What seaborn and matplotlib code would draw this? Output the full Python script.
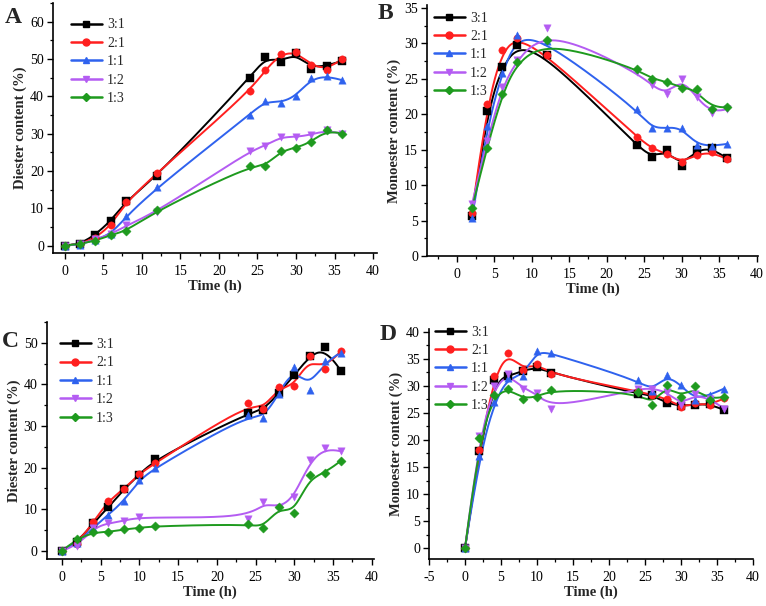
import numpy as np
import pandas as pd
import matplotlib
matplotlib.use("Agg")
import matplotlib.pyplot as plt
import seaborn as sns
from matplotlib.lines import Line2D
from matplotlib.ticker import MultipleLocator

# ---------------- data ----------------
RATIOS = ["3:1", "2:1", "1:1", "1:2", "1:3"]
COLORS = ["#000000", "#FF1F1F", "#2F62EE", "#B45CF2", "#1E9A1E"]
MARKERS = ["s", "o", "^", "v", "D"]

# Panel A : diester content
TIME_A = [0, 2, 4, 6, 8, 12, 24, 26, 28, 30, 32, 34, 36]
A_31 = [0, 0.3, 2.9, 6.6, 12.0, 18.6, 44.9, 50.4, 49.3, 51.5, 47.3, 48.2, 49.5]
A_21 = [0, 0.3, 2.0, 5.4, 11.7, 19.5, 41.3, 47.0, 51.3, 51.9, 48.3, 47.0, 50.0]
A_11 = [0, 0.2, 1.6, 3.0, 7.8, 15.6, 35.1, 38.7, 38.3, 40.0, 44.9, 45.5, 44.3]
A_12 = [0, 0.3, 1.7, 3.0, 5.4, 9.0, 25.4, 26.7, 29.1, 29.1, 29.7, 30.9, 30.0]
A_13 = [0, 0.4, 1.3, 2.8, 3.9, 9.4, 21.4, 21.2, 25.3, 26.2, 27.7, 31.0, 30.0]

# Panel B : monoester content
TIME_B = [2, 4, 6, 8, 12, 24, 26, 28, 30, 32, 34, 36]
B_31 = [5.7, 20.5, 26.7, 29.7, 28.3, 15.6, 13.9, 14.9, 12.7, 15.0, 15.3, 13.8]
B_21 = [6.0, 21.5, 29.1, 30.8, 28.4, 16.8, 15.2, 14.4, 13.2, 14.3, 14.7, 13.7]
B_11 = [5.3, 18.3, 25.8, 31.1, 30.3, 20.7, 18.0, 18.1, 18.1, 15.6, 15.5, 15.8]
B_12 = [7.3, 16.2, 23.9, 27.6, 32.2, 25.9, 24.1, 22.8, 25.0, 22.4, 20.1, 20.7]
B_13 = [6.7, 15.3, 22.8, 27.3, 30.4, 26.4, 25.0, 24.6, 23.7, 23.5, 20.8, 21.0]

# Panel C : diester content
TIME_C = [0, 2, 4, 6, 8, 10, 12, 24, 26, 28, 30, 32, 34, 36]
C_31 = [0, 2.0, 6.6, 10.4, 14.8, 18.3, 22.0, 33.1, 33.8, 37.9, 42.2, 46.9, 49.0, 43.3]
C_21 = [0, 1.7, 6.8, 12.0, 14.8, 18.5, 21.0, 35.4, 34.0, 39.3, 39.5, 46.8, 43.6, 48.0]
C_11 = [0, 1.8, 5.5, 8.6, 12.0, 17.0, 19.9, 32.7, 31.8, 37.8, 44.1, 38.7, 45.6, 47.6]
C_12 = [0, 1.2, 5.5, 6.6, 7.15, 8.2, np.nan, 7.7, 11.6, 10.3, 12.8, 21.7, 24.8, 23.9]
C_13 = [0, 2.9, 4.4, 4.5, 5.1, 5.5, 5.9, 6.4, 5.5, 10.45, 9.0, 18.2, 18.6, 21.6]

# Panel D : monoester content
TIME_D = [0, 2, 4, 6, 8, 10, 12, 24, 26, 28, 30, 32, 34, 36]
D_31 = [0, 18.0, 31.0, 31.8, 32.8, 33.4, 32.4, 28.5, 28.3, 26.8, 26.3, 26.5, 26.7, 25.5]
D_21 = [0, 18.2, 31.9, 36.1, 33.0, 34.1, 32.1, 29.0, 28.3, 27.6, 26.0, 26.8, 26.4, 27.7]
D_11 = [0, 17.0, 27.0, 31.5, 31.8, 36.5, 36.0, 31.0, 29.1, 32.0, 30.1, 27.4, 28.3, 29.5]
D_12 = [0, 20.7, 29.9, 32.2, 29.5, 28.6, 25.7, 29.5, 29.5, 28.9, 26.5, 28.5, 27.6, 25.8]
D_13 = [0, 20.4, 28.3, 29.5, 27.65, 27.95, 29.3, 28.8, 26.5, 30.1, 27.9, 29.9, 27.3, 28.0]

PANELS = [
    dict(letter="A", t=TIME_A, series=[A_31, A_21, A_11, A_12, A_13],
         ylabel="Diester content (%)", xlim=(-1.5, 40.5), ylim=(-2, 65),
         xticks=np.arange(0, 41, 5), ymaj=10, ymin=5),
    dict(letter="B", t=TIME_B, series=[B_31, B_21, B_11, B_12, B_13],
         ylabel="Monoester content (%)", xlim=(-4, 40.2), ylim=(0, 35.4),
         xticks=np.arange(0, 41, 5), ymaj=5, ymin=2.5),
    dict(letter="C", t=TIME_C, series=[C_31, C_21, C_11, C_12, C_13],
         ylabel="Diester content (%)", xlim=(-2, 40.3), ylim=(-2, 55),
         xticks=np.arange(0, 41, 5), ymaj=10, ymin=5),
    dict(letter="D", t=TIME_D, series=[D_31, D_21, D_11, D_12, D_13],
         ylabel="Monoester content (%)", xlim=(-5, 40), ylim=(-2, 40.5),
         xticks=np.arange(-5, 41, 5), ymaj=5, ymin=2.5),
]

# axes placement in pixels: left, right, top, bottom
W, H = 766, 606
BOXES = [(53, 377, 3, 253), (427, 758, 5, 256), (46.5, 374, 322, 559), (429, 753, 329, 559)]
LEG = [(71, 18.5), (434, 11.5), (60, 338), (435, 325.5)]
LET = [(5, 23), (378, 19), (2, 347), (380, 340)]


def bspline(xs, ys, n=400, k=3):
    """Clamped uniform cubic B-spline using the data points as control points."""
    P = np.column_stack([xs, ys])
    m = len(P)
    k = min(k, m - 1)
    inner = np.linspace(0, 1, m - k + 1)
    knots = np.concatenate([np.zeros(k), inner, np.ones(k)])
    t = np.linspace(0, 1, n)
    t[-1] -= 1e-9
    N = np.zeros((n, len(knots) - 1))
    for i in range(len(knots) - 1):
        N[:, i] = (knots[i] <= t) & (t < knots[i + 1])
    for d in range(1, k + 1):
        Nn = np.zeros((n, len(knots) - 1 - d))
        for i in range(len(knots) - 1 - d):
            a = knots[i + d] - knots[i]
            b = knots[i + d + 1] - knots[i + 1]
            term = np.zeros(n)
            if a > 0:
                term += (t - knots[i]) / a * N[:, i]
            if b > 0:
                term += (knots[i + d + 1] - t) / b * N[:, i + 1]
            Nn[:, i] = term
        N = Nn
    C = N @ P
    return C[:, 0], C[:, 1]


sns.set_theme(style="ticks")
plt.rcParams["font.family"] = ["Liberation Serif", "DejaVu Serif"]
plt.rcParams["axes.unicode_minus"] = False

fig = plt.figure(figsize=(W / 100, H / 100), dpi=100)
fig.patch.set_facecolor("white")

for p, box, leg, let in zip(PANELS, BOXES, LEG, LET):
    l, r, tp, bt = box
    ax = fig.add_axes([l / W, 1 - bt / H, (r - l) / W, (bt - tp) / H])
    ax.set_facecolor("white")
    handles = []
    for name, ys, col, mk in zip(RATIOS, p["series"], COLORS, MARKERS):
        df = pd.DataFrame({"t": p["t"], "y": ys}).dropna()
        cx, cy = bspline(df["t"].values, df["y"].values)
        cdf = pd.DataFrame({"t": cx, "y": cy})
        sns.lineplot(data=cdf, x="t", y="y", ax=ax, color=col, lw=1.4,
                     sort=False, estimator=None, legend=False)
        ms = 28 if mk != "D" else 22
        sns.scatterplot(data=df, x="t", y="y", ax=ax, color=col, marker=mk,
                        s=ms, edgecolor=col, linewidth=0.3, legend=False, zorder=3)
        handles.append(Line2D([], [], color=col, lw=1.8, marker=mk,
                              markersize=5 if mk != "D" else 4.5))
    ax.set_xticks(p["xticks"])
    ax.xaxis.set_minor_locator(MultipleLocator(2.5))
    ax.yaxis.set_major_locator(MultipleLocator(p["ymaj"]))
    ax.yaxis.set_minor_locator(MultipleLocator(p["ymin"]))
    ax.set_ylim(*p["ylim"])
    ax.set_xlim(*p["xlim"])
    ax.set_xlabel("Time (h)", fontsize=10.5, fontweight="bold", labelpad=1)
    ax.set_ylabel(p["ylabel"], fontsize=10.5, fontweight="bold", labelpad=2)
    ax.tick_params(axis="x", which="major", pad=4.5)
    ax.tick_params(axis="y", which="major", pad=2.5)
    ax.tick_params(axis="both", which="major", direction="out", length=4,
                   width=1.0, labelsize=10, colors="black")
    ax.tick_params(axis="both", which="minor", direction="out", length=2.2,
                   width=0.9, colors="black")
    for s in ["top", "right"]:
        ax.spines[s].set_visible(False)
    for s in ["left", "bottom"]:
        ax.spines[s].set_color("black")
        ax.spines[s].set_linewidth(1.2)
    ax.legend(handles, RATIOS, loc="upper left",
              bbox_to_anchor=(leg[0] / W, 1 - leg[1] / H), bbox_transform=fig.transFigure,
              frameon=False, fontsize=10, handlelength=2.2, handletextpad=0.4,
              labelspacing=0.39, borderpad=0, borderaxespad=0)
    fig.text(let[0] / W, 1 - let[1] / H, p["letter"], fontsize=17, fontweight="bold",
             ha="left", va="baseline")

fig.savefig("out.png", dpi=100, facecolor="white")
